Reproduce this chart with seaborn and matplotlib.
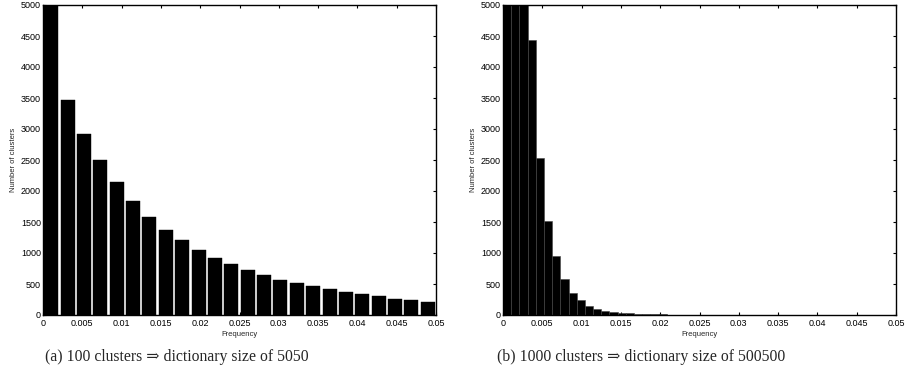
import numpy as np
import pandas as pd
import matplotlib
matplotlib.use("Agg")
import matplotlib.pyplot as plt
import seaborn as sns

# ---- data ----
freq_max = 0.05
left_counts = [7800, 3461, 2922, 2492, 2147, 1835, 1588, 1372, 1206, 1050,
               926, 818, 727, 646, 571, 517, 463, 420, 371, 334,
               301, 264, 242, 215]
right_counts = [6800, 7600, 6500, 4428, 2540, 1510, 949, 588, 361, 237,
                151, 97, 65, 50, 38, 27, 20, 16, 12, 10,
                8, 7, 6, 5, 4, 4, 3, 3, 2, 2,
                2, 1, 1, 0, 0, 0, 0, 0, 0, 0,
                0, 0, 0, 0, 0, 0, 0, 0]
x_ticks = [0, 0.005, 0.01, 0.015, 0.02, 0.025, 0.03, 0.035, 0.04, 0.045, 0.05]
x_tick_labels = ["0", "0.005", "0.01", "0.015", "0.02", "0.025", "0.03",
                 "0.035", "0.04", "0.045", "0.05"]
y_ticks = list(range(0, 5001, 500))
captions = ["(a) 100 clusters \u21d2 dictionary size of 5050",
            "(b) 1000 clusters \u21d2 dictionary size of 500500"]
x_label = "Frequency"
y_label = "Number of clusters"

sns.set_theme(style="white")
plt.rcParams["font.family"] = ["Liberation Sans", "DejaVu Sans"]

fig = plt.figure(figsize=(9.06, 3.81), dpi=100)
ax_l = fig.add_axes([43 / 906, 1 - 315 / 381, 393 / 906, 310 / 381])
ax_r = fig.add_axes([503 / 906, 1 - 315 / 381, 393 / 906, 310 / 381])


def hist_panel(ax, counts, shrink, edgecolor, lw):
    n = len(counts)
    w = freq_max / n
    df = pd.DataFrame({"freq": (np.arange(n) + 0.5) * w, "count": counts})
    sns.histplot(data=df, x="freq", weights="count", bins=n,
                 binrange=(0, freq_max), shrink=shrink, color="black",
                 edgecolor=edgecolor, linewidth=lw, alpha=1, ax=ax)
    ax.set_xlim(0, freq_max)
    ax.set_ylim(0, 5000)
    ax.set_xticks(x_ticks)
    ax.set_xticklabels(x_tick_labels)
    ax.set_yticks(y_ticks)
    ax.tick_params(axis="both", direction="in", length=2.4, width=0.8,
                   labelsize=6.5, colors="black", top=True, right=True,
                   bottom=True, left=True)
    ax.tick_params(axis="x", pad=3)
    ax.tick_params(axis="y", pad=1.5)
    for s in ax.spines.values():
        s.set_visible(True)
        s.set_color("black")
        s.set_linewidth(1.0)
    ax.set_xlabel(x_label, fontsize=5.5, labelpad=2)
    ax.set_ylabel(y_label, fontsize=5.5, labelpad=3)


hist_panel(ax_l, left_counts, 0.86, "black", 0.3)
hist_panel(ax_r, right_counts, 1.0, "#444444", 0.4)

fig.text(45 / 906, 1 - 357 / 381, captions[0], ha="left", va="center",
         fontsize=11.3, family=["Liberation Serif", "DejaVu Serif"])
fig.text(497 / 906, 1 - 357 / 381, captions[1], ha="left", va="center",
         fontsize=11.3, family=["Liberation Serif", "DejaVu Serif"])

fig.savefig("out.png", dpi=100)
